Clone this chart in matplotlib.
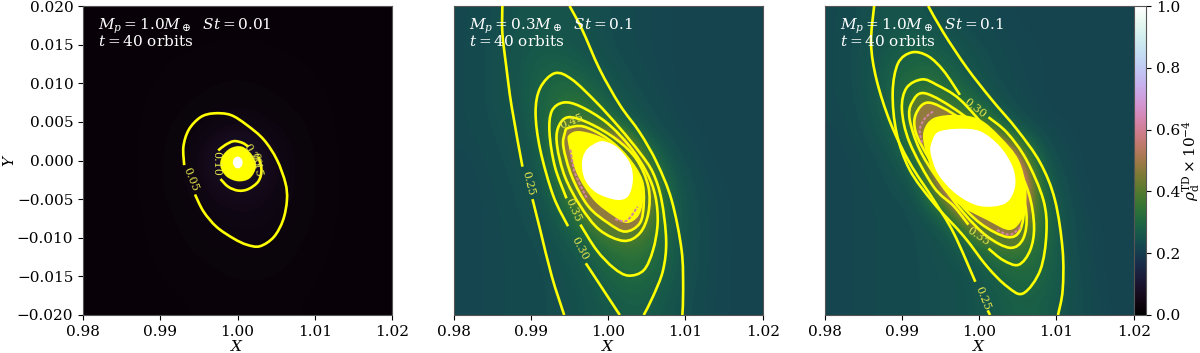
import numpy as np
import matplotlib
matplotlib.use('Agg')
import matplotlib.pyplot as plt
from matplotlib.path import Path
from matplotlib.patches import PathPatch

plt.rcParams['font.family'] = 'DejaVu Serif'
plt.rcParams['mathtext.fontset'] = 'dejavuserif'
plt.rcParams['font.size'] = 11

xticks = [0.98, 0.99, 1.00, 1.01, 1.02]
yticks = [-0.020, -0.015, -0.010, -0.005, 0.000, 0.005, 0.010, 0.015, 0.020]
cticks = [0.0, 0.2, 0.4, 0.6, 0.8, 1.0]

# rough density grids, top row is Y=0.02, X goes 0.98 to 1.02
field1 = [
    [.020, .020, .020, .020, .022, .022, .022, .020, .020, .020, .020],
    [.020, .020, .022, .023, .024, .024, .024, .023, .022, .020, .020],
    [.020, .022, .023, .025, .026, .027, .026, .025, .023, .022, .020],
    [.020, .022, .024, .026, .029, .031, .029, .026, .024, .022, .020],
    [.020, .022, .025, .029, .040, .055, .042, .030, .025, .022, .020],
    [.020, .022, .025, .031, .060, .150, .065, .033, .025, .022, .020],
    [.020, .022, .025, .031, .048, .065, .052, .034, .025, .022, .020],
    [.020, .022, .024, .028, .036, .045, .042, .032, .025, .022, .020],
    [.020, .022, .024, .026, .030, .034, .034, .028, .024, .022, .020],
    [.020, .020, .023, .025, .026, .028, .028, .026, .023, .022, .020],
    [.020, .020, .022, .023, .024, .025, .025, .024, .022, .020, .020],
]
field2 = [
    [.225, .235, .255, .258, .245, .235, .225, .220, .215, .215, .215],
    [.225, .240, .260, .265, .255, .235, .225, .220, .215, .215, .215],
    [.225, .240, .260, .300, .280, .250, .230, .220, .215, .215, .215],
    [.225, .240, .260, .310, .350, .270, .240, .225, .215, .215, .215],
    [.225, .235, .250, .310, .420, .360, .260, .230, .220, .215, .215],
    [.220, .230, .245, .285, .550, 1.20, .420, .250, .225, .215, .215],
    [.220, .225, .240, .265, .450, 1.00, .600, .290, .230, .220, .215],
    [.220, .225, .235, .250, .320, .500, .500, .300, .235, .220, .215],
    [.220, .225, .230, .240, .270, .330, .370, .290, .235, .220, .215],
    [.220, .225, .230, .235, .250, .290, .320, .280, .235, .220, .215],
    [.220, .225, .230, .235, .245, .265, .280, .260, .230, .220, .215],
]
field3 = [
    [.225, .240, .260, .250, .235, .225, .220, .215, .215, .215, .215],
    [.225, .245, .265, .280, .260, .235, .225, .220, .215, .215, .215],
    [.225, .245, .290, .320, .290, .245, .225, .220, .215, .215, .215],
    [.225, .240, .300, .380, .350, .280, .235, .220, .215, .215, .215],
    [.220, .235, .270, .420, .500, .450, .270, .230, .220, .215, .215],
    [.220, .225, .245, .320, .900, 1.20, .700, .270, .225, .215, .215],
    [.220, .225, .235, .250, .600, 1.20, 1.00, .330, .230, .215, .215],
    [.220, .225, .230, .235, .280, .600, .700, .360, .240, .220, .215],
    [.220, .225, .230, .235, .245, .310, .380, .330, .245, .220, .215],
    [.220, .225, .230, .235, .240, .250, .300, .310, .255, .220, .215],
    [.220, .225, .230, .235, .240, .250, .275, .285, .250, .225, .215],
]

# contour lines (X, Y)
p1_c05 = [(.9945, -.0044), (.9956, -.0066), (.9973, -.0086), (.9995, -.0101), (1.0012, -.0109), (1.0029, -.0111),
          (1.0047, -.0099), (1.0059, -.0077), (1.0064, -.0051), (1.0062, -.0029), (1.0051, .0001), (1.0034, .0027),
          (1.0012, .0046), (.9991, .0059), (.9969, .0061), (.9952, .0056), (.9937, .0040), (.9930, .0018), (.9931, -.0006)]
p1_c10a = [(.9975, .0013), (.9984, .0020), (.9995, .0025), (1.0006, .0023), (1.0014, .0018)]
p1_c10b = [(1.0027, .0005), (1.0031, -.0012), (1.0027, -.0027), (1.0014, -.0037), (1.0001, -.0039), (.9988, -.0034), (.9978, -.0024)]
p1_blob = [(.9980, .0005), (.9991, .0016), (1.0006, .0018), (1.0019, .0007), (1.0024, -.0008), (1.0016, -.0023),
           (1.0001, -.0027), (.9986, -.0021), (.9978, -.0008)]
p1_white = [(.9994, -.0003), (.9996, .0003), (1.0001, .0005), (1.0006, .0001), (1.0006, -.0006), (1.0002, -.0010), (.9997, -.0009)]

p2_c25a = [(.9863, .0200), (.9863, .0165), (.9868, .0122), (.9875, .0070), (.9889, -.0008)]
p2_c25b = [(.9902, -.0050), (.9912, -.0090), (.9927, -.0150), (.9943, -.0200)]
p2_c25c = [(.9950, .0200), (.9966, .0170), (.9989, .0118), (1.0015, .0072), (1.0041, .0036), (1.0063, -.0003),
           (1.0082, -.0051), (1.0095, -.0116), (1.0097, -.0168), (1.0096, -.0200)]
p2_c30a = [(1.0015, -.0200), (.9994, -.0168), (.9971, -.0133)]
p2_c30b = [(.9948, -.0085), (.9929, -.0046), (.9912, .0014), (.9906, .0062), (.9912, .0094), (.9931, .0113), (.9953, .0105),
           (.9985, .0075), (1.0015, .0042), (1.0041, .0010), (1.0058, -.0016), (1.0069, -.0051), (1.0075, -.0103),
           (1.0071, -.0142), (1.0058, -.0176), (1.0046, -.0200)]
p2_c35 = [(.9964, -.0083), (.9985, -.0116), (1.0007, -.0139), (1.0026, -.0149), (1.0046, -.0142), (1.0058, -.0116),
          (1.0064, -.0081), (1.0061, -.0046), (1.0050, -.0016), (1.0028, .0018), (.9998, .0049), (.9964, .0070),
          (.9942, .0075), (.9927, .0064), (.9924, .0036), (.9931, -.0008), (.9946, -.0049)]
p2_c40 = [(.9948, .0056), (.9935, .0042), (.9934, .0018), (.9944, -.0021), (.9964, -.0059), (.9989, -.0090), (1.0020, -.0104),
          (1.0041, -.0094), (1.0052, -.0068), (1.0052, -.0034), (1.0037, .0001), (1.0011, .0027), (.9976, .0048)]
p2_c45 = [(.9944, .0036), (.9942, .0018), (.9953, -.0021), (.9974, -.0059), (1.0000, -.0081), (1.0022, -.0092), (1.0041, -.0081),
          (1.0046, -.0055), (1.0043, -.0025), (1.0024, .0005), (.9998, .0029), (.9968, .0044), (.9948, .0042)]
p2_c50 = [(.9948, .0023), (.9959, -.0016), (.9981, -.0051), (1.0007, -.0072), (1.0024, -.0081), (1.0039, -.0072),
          (1.0045, -.0051), (1.0041, -.0021), (1.0022, .0008), (.9994, .0029), (.9964, .0038), (.9950, .0034)]
p2_white = [(.9987, .0024), (.9972, .0014), (.9966, -.0003), (.9970, -.0025), (.9985, -.0042), (1.0011, -.0051),
            (1.0026, -.0046), (1.0032, -.0025), (1.0028, -.0003), (1.0013, .0016), (.9998, .0024)]
p2_pink_a = [(.9951, .0014), (.9957, -.0016), (.9973, -.0050)]
p2_pink_b = [(1.0009, -.0076), (1.0024, -.0078), (1.0038, -.0060)]

p3_c25a = [(.9864, .0200), (.9860, .0152), (.9867, .0105), (.9885, .0049), (.9910, -.0003), (.9941, -.0051), (.9967, -.0094), (.9995, -.0157)]
p3_c25b = [(1.0011, -.0194), (1.0014, -.0200)]
p3_c25c = [(.9934, .0200), (.9954, .0165), (.9984, .0120), (1.0016, .0079), (1.0049, .0040), (1.0079, -.0003),
           (1.0098, -.0051), (1.0108, -.0116), (1.0108, -.0168), (1.0102, -.0200)]
p3_c30 = [(1.0012, .0056), (1.0036, .0036), (1.0061, .0001), (1.0083, -.0051), (1.0087, -.0094), (1.0079, -.0142), (1.0057, -.0172),
          (1.0036, -.0163), (1.0010, -.0137), (.9980, -.0098), (.9941, -.0055), (.9910, -.0012), (.9893, .0036), (.9888, .0088),
          (.9895, .0126), (.9913, .0140), (.9934, .0135), (.9954, .0116), (.9975, .0085)]
p3_c35 = [(1.0012, -.0114), (1.0031, -.0129), (1.0051, -.0135), (1.0066, -.0116), (1.0071, -.0085), (1.0064, -.0042), (1.0044, .0001),
          (1.0014, .0036), (.9975, .0079), (.9945, .0098), (.9926, .0105), (.9906, .0094), (.9900, .0066), (.9910, .0023),
          (.9941, -.0034), (.9967, -.0059), (.9986, -.0083)]
p3_c40 = [(.9930, .0087), (.9913, .0075), (.9910, .0053), (.9923, .0014), (.9947, -.0025), (.9980, -.0068), (1.0010, -.0098),
          (1.0040, -.0113), (1.0057, -.0101), (1.0061, -.0068), (1.0049, -.0021), (1.0014, .0027), (.9975, .0062)]
p3_c45 = [(.9934, .0075), (.9918, .0060), (.9918, .0036), (.9936, .0001), (.9967, -.0046), (1.0001, -.0081), (1.0036, -.0099),
          (1.0053, -.0090), (1.0057, -.0055), (1.0040, -.0012), (1.0005, .0031), (.9967, .0060)]
p3_blob = [(.9941, .0055), (.9928, .0038), (.9930, .0014), (.9943, -.0021), (.9971, -.0055), (1.0010, -.0077), (1.0040, -.0090),
           (1.0057, -.0072), (1.0061, -.0038), (1.0051, .0001), (1.0027, .0031), (1.0001, .0053), (.9971, .0059)]
p3_white = [(.9939, .0025), (.9937, .0010), (.9947, -.0018), (.9971, -.0044), (1.0001, -.0059), (1.0033, -.0056), (1.0046, -.0036),
            (1.0044, -.0010), (1.0027, .0018), (1.0001, .0038), (.9971, .0041), (.9947, .0037)]
p3_pink_a = [(.9926, .0023), (.9923, .0040), (.9930, .0055), (.9941, .0064)]
p3_pink_b = [(1.0023, -.0090), (1.0040, -.0096), (1.0055, -.0085)]

titles = ['$M_p = 1.0M_\\oplus$  $St = 0.01$\n$t = 40$ orbits',
          '$M_p = 0.3M_\\oplus$  $St = 0.1$\n$t = 40$ orbits',
          '$M_p = 1.0M_\\oplus$  $St = 0.1$\n$t = 40$ orbits']

# label text, X, Y, rotation
labels1 = [('0.05', .9939, -.0025, -68), ('0.10', .9972, -.0004, -90), ('0.20', 1.0019, .0007, -60), ('0.15', 1.0024, -.0006, -80)]
labels2 = [('0.25', .9897, -.0029, -76), ('0.30', .9963, -.0114, -62), ('0.35', .9955, -.0064, -66), ('0.45', .9953, .0051, 22)]
labels3 = [('0.30', .9995, .0068, -38), ('0.35', .9999, -.0098, -34), ('0.25', 1.0004, -.0178, -68)]


def smooth(pts, closed):
    # catmull-rom through the traced points, written as bezier segments
    p = np.array(pts)
    n = len(p)
    if closed:
        idx = range(n)
    else:
        idx = range(n - 1)
    verts = [p[0]]
    codes = [Path.MOVETO]
    for i in idx:
        if closed:
            p0, p1, p2, p3 = p[(i - 1) % n], p[i], p[(i + 1) % n], p[(i + 2) % n]
        else:
            p0, p1, p2, p3 = p[max(i - 1, 0)], p[i], p[i + 1], p[min(i + 2, n - 1)]
        verts += [p1 + (p2 - p0) / 6, p2 - (p3 - p1) / 6, p2]
        codes += [Path.CURVE4] * 3
    return Path(verts, codes)


def line(ax, pts, closed=False):
    ax.add_patch(PathPatch(smooth(pts, closed), fc='none', ec='yellow', lw=1.9, capstyle='butt', zorder=4))


def filled(ax, pts, color, z=3):
    ax.add_patch(PathPatch(smooth(pts, True), fc=color, ec='none', zorder=z))


def dashes(ax, pts):
    ax.add_patch(PathPatch(smooth(pts, False), fc='none', ec=cmap(0.62), lw=1.5, ls=(0, (1.5, 0.8)), zorder=5))


fig = plt.figure(figsize=(12, 3.53), dpi=100)
lefts = [83, 453.7, 824.7]
axes = [fig.add_axes([l / 1200, 38 / 353, 309 / 1200, 309 / 353]) for l in lefts]
cmap = plt.get_cmap('cubehelix')

for ax, f, title in zip(axes, [field1, field2, field3], titles):
    im = ax.imshow(f, extent=[0.98, 1.02, -0.02, 0.02], origin='upper', aspect='auto',
                   cmap=cmap, vmin=0, vmax=1, interpolation='bicubic')
    ax.set_xlim(0.98, 1.02)
    ax.set_ylim(-0.02, 0.02)
    ax.set_xticks(xticks)
    ax.set_xticklabels(['%.2f' % t for t in xticks])
    ax.set_xlabel('$X$', labelpad=0, fontsize=11)
    ax.text(0.982, 0.0186, title, color='white', va='top', ha='left', fontsize=11, linespacing=0.8, zorder=6)
    for s in ax.spines.values():
        s.set_color('#555555')
        s.set_linewidth(0.8)

axes[0].set_yticks(yticks)
axes[0].set_yticklabels([('%.3f' % t).replace('-', '\u2212') for t in yticks])
axes[0].set_ylabel('$Y$', labelpad=0, fontsize=11)
axes[1].set_yticks([])
axes[2].set_yticks([])

# panel 1
line(axes[0], p1_c05)
line(axes[0], p1_c10a)
line(axes[0], p1_c10b)
filled(axes[0], p1_blob, 'yellow')
filled(axes[0], p1_white, 'white', 5)

# panel 2
filled(axes[1], p2_c40, cmap(0.40), 2)
filled(axes[1], p2_c45, cmap(0.48), 2)
for c in [p2_c25a, p2_c25b, p2_c25c, p2_c30a, p2_c30b, p2_c35]:
    line(axes[1], c)
for c in [p2_c40, p2_c45]:
    line(axes[1], c, True)
filled(axes[1], p2_c50, 'yellow')
dashes(axes[1], p2_pink_a)
dashes(axes[1], p2_pink_b)
filled(axes[1], p2_white, 'white', 5)

# panel 3
filled(axes[2], p3_c40, cmap(0.40), 2)
filled(axes[2], p3_c45, cmap(0.48), 2)
for c in [p3_c25a, p3_c25b, p3_c25c, p3_c30, p3_c35]:
    line(axes[2], c)
for c in [p3_c40, p3_c45]:
    line(axes[2], c, True)
filled(axes[2], p3_blob, 'yellow')
dashes(axes[2], p3_pink_a)
dashes(axes[2], p3_pink_b)
filled(axes[2], p3_white, 'white', 5)

for ax, labs in zip(axes, [labels1, labels2, labels3]):
    for txt, x, y, rot in labs:
        ax.text(x, y, txt, color='#e8e84a', fontsize=8, rotation=rot, ha='center', va='center',
                rotation_mode='anchor', zorder=6)

cax = fig.add_axes([1133.7 / 1200, 38 / 353, 12.3 / 1200, 309 / 353])
cb = fig.colorbar(im, cax=cax)
cb.set_ticks(cticks)
cb.set_ticklabels(['%.1f' % t for t in cticks])
cb.set_label('$\\rho_{\\rm d}^{\\rm TD} \\times 10^{-4}$', labelpad=0, fontsize=11)
cb.outline.set_edgecolor('#555555')
cb.outline.set_linewidth(0.8)

fig.savefig('out.png', dpi=100)
